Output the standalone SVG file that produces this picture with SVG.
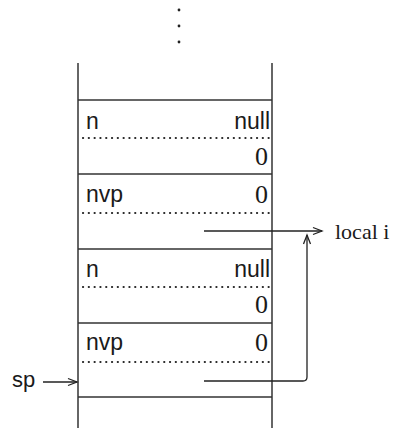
<svg xmlns="http://www.w3.org/2000/svg" width="402" height="428" viewBox="0 0 402 428">
<defs>
<marker id="arr" markerWidth="12" markerHeight="10" refX="10" refY="5" orient="auto" markerUnits="userSpaceOnUse">
<path d="M1,1.5 L10,5 L1,8.5" fill="none" stroke="#222" stroke-width="1.3"/>
</marker>
</defs>
<style>
.frame{stroke:#333;stroke-width:1.5;fill:none}
.sep{stroke:#333;stroke-width:1.4;fill:none}
.dot{stroke:#222;stroke-width:2.2;stroke-dasharray:0.1 5.7;stroke-linecap:round;fill:none}
.sans{font-family:"Liberation Sans",Arial,sans-serif;font-size:23px;fill:#1a1a1a}
.serif{font-family:"Liberation Serif","Times New Roman",serif;font-size:26px;fill:#1a1a1a}
.conn{stroke:#222;stroke-width:1.3;fill:none}
</style>
<rect width="402" height="428" fill="#fff"/>
<g id="ellipsis" fill="#222">
<circle cx="179" cy="10" r="1.4"/>
<circle cx="179" cy="26" r="1.4"/>
<circle cx="179" cy="42" r="1.4"/>
</g>
<g id="stack">
<line class="frame" x1="78" y1="63" x2="78" y2="428"/>
<line class="frame" x1="272" y1="63" x2="272" y2="428"/>
<line class="sep" x1="78" y1="100" x2="272" y2="100"/>
<line class="sep" x1="78" y1="174" x2="272" y2="174"/>
<line class="sep" x1="78" y1="249" x2="272" y2="249"/>
<line class="sep" x1="78" y1="323" x2="272" y2="323"/>
<line class="sep" x1="78" y1="397" x2="272" y2="397"/>
<line class="dot" x1="83" y1="138" x2="269" y2="138"/>
<line class="dot" x1="83" y1="213" x2="269" y2="213"/>
<line class="dot" x1="83" y1="287" x2="269" y2="287"/>
<line class="dot" x1="83" y1="362" x2="269" y2="362"/>
</g>
<g id="frame1">
<text class="sans" x="86" y="129">n</text>
<text class="sans" x="270" y="129" text-anchor="end">null</text>
<text class="serif" x="268" y="165" text-anchor="end">0</text>
<text class="sans" x="86" y="202">nvp</text>
<text class="serif" x="268" y="203" text-anchor="end">0</text>
</g>
<g id="frame2">
<text class="sans" x="86" y="277">n</text>
<text class="sans" x="270" y="277" text-anchor="end">null</text>
<text class="serif" x="268" y="313" text-anchor="end">0</text>
<text class="sans" x="86" y="350">nvp</text>
<text class="serif" x="268" y="351" text-anchor="end">0</text>
</g>
<g id="local-i">
<text class="serif" x="335" y="239" style="font-size:22px">local i</text>
</g>
<g id="sp">
<text class="sans" x="12" y="387" style="font-size:22px">sp</text>
</g>
<g id="connectors">
<line class="conn" x1="204" y1="231" x2="322" y2="231" marker-end="url(#arr)"/>
<path class="conn" d="M204,381 H303 Q307,381 307,377 V235" marker-end="url(#arr)"/>
<line class="conn" x1="43" y1="382" x2="77" y2="382" marker-end="url(#arr)"/>
</g>
</svg>
